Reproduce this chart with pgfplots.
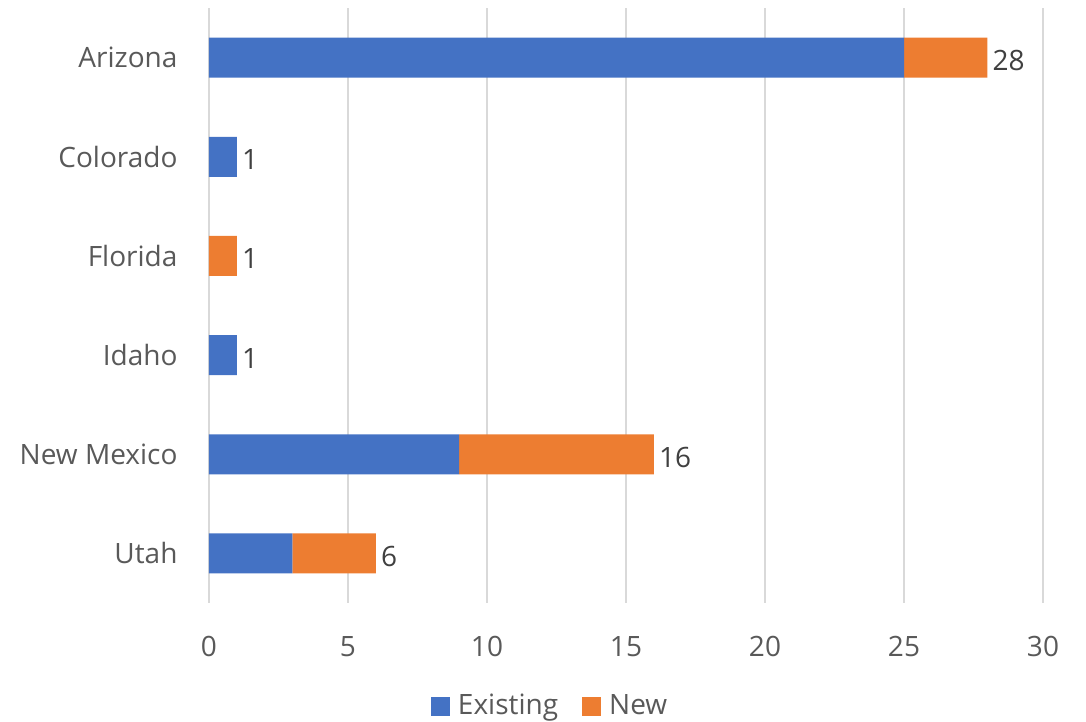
\documentclass[border=0pt]{standalone}
\usepackage{pgfplots}
\pgfplotsset{compat=1.18}
\usepackage{fontspec}
\setmainfont{Open Sans}
\definecolor{exblue}{HTML}{4472C4}
\definecolor{neworange}{HTML}{ED7D31}
\definecolor{gridgray}{HTML}{D9D9D9}
\definecolor{txtgray}{HTML}{595959}
\definecolor{lblgray}{HTML}{404040}
\begin{document}
\fontsize{28}{33}\selectfont
\begin{tikzpicture}
\path[use as bounding box] (-209pt,-119pt) rectangle (877pt,603pt);
\begin{axis}[
  at={(0pt,0pt)}, anchor=south west,
  scale only axis, width=834pt, height=595pt,
  xbar stacked, bar width=40pt,
  xmin=0, xmax=30, ymin=-0.5, ymax=5.5, y dir=reverse,
  ytick={0,...,5},
  yticklabels={Arizona,Colorado,Florida,Idaho,New Mexico,Utah},
  xtick={0,5,...,30},
  xmajorgrids, grid style={gridgray, line width=1.5pt},
  axis line style={draw=none},
  major tick length=0pt,
  tick label style={font=\fontsize{28}{33}\selectfont, text=txtgray},
  yticklabel style={xshift=-22pt},
  xticklabel style={yshift=-24pt},
  /pgf/number format/assume math mode=true,
  legend style={at={(0.409,-0.174)}, anchor=center, draw=none,
    legend columns=2, font=\fontsize{28}{33}\selectfont, text=txtgray,
    /tikz/every even column/.append style={column sep=22pt}},
  legend image code/.code={\fill (0pt,-9pt) rectangle (19pt,10pt);
    \path (25pt,0pt);},
]
% Existing
\addplot[fill=exblue, draw=none] coordinates {(25,0) (1,1) (0,2) (1,3) (9,4) (3,5)};
% New
\addplot[fill=neworange, draw=none] coordinates {(3,0) (0,1) (1,2) (0,3) (7,4) (3,5)};
% totals, as labels at the end of each bar (a hair-thin invisible segment)
\addplot[draw=none, fill=none, forget plot, point meta=explicit,
  nodes near coords,
  nodes near coords style={font=\fontsize{28}{33}\selectfont, text=lblgray,
    anchor=west, inner sep=5pt, yshift=-3pt}]
  coordinates {(0.001,0) [28] (0.001,1) [1] (0.001,2) [1] (0.001,3) [1] (0.001,4) [16] (0.001,5) [6]};
\legend{Existing, New}
\end{axis}
\end{tikzpicture}
\end{document}
